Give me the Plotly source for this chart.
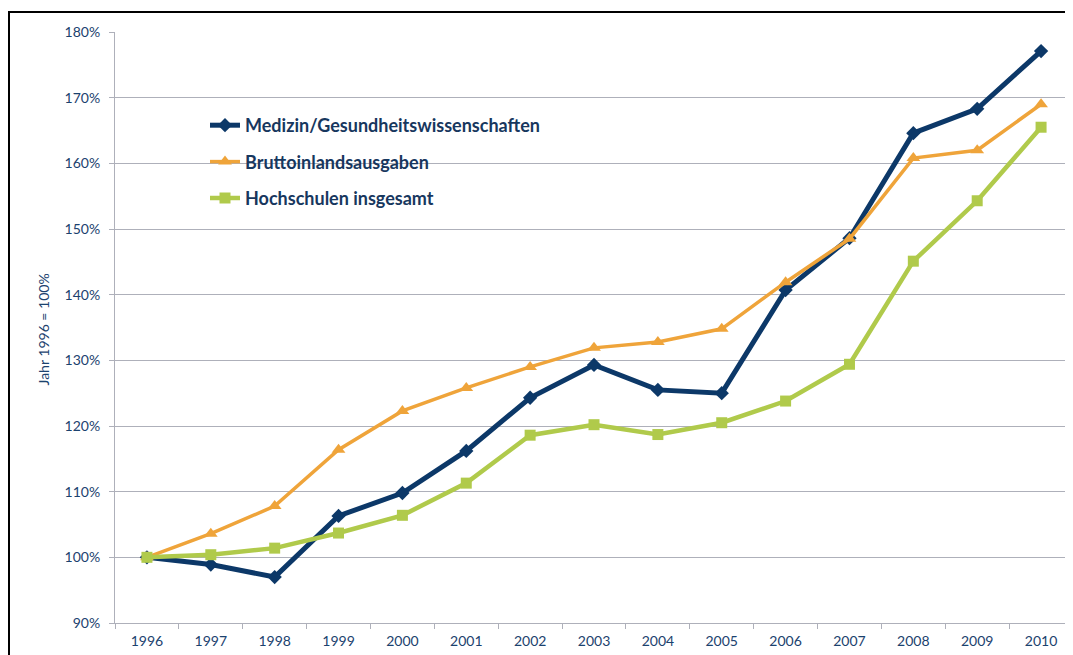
import plotly.graph_objects as go

NAVY = "#0C3868"
ORANGE = "#EFA43A"
GREEN = "#B0CA4B"
TEXT = "#1B426E"
GRID = "#AEB0BA"
FONT = "Lato, 'Open Sans', sans-serif"

years = [str(y) for y in range(1996, 2011)]
medizin = [100, 98.9, 97.0, 106.3, 109.8, 116.2, 124.3, 129.3, 125.5, 125.0, 140.7, 148.6, 164.6, 168.3, 177.1]
brutto = [100, 103.6, 107.8, 116.4, 122.3, 125.8, 129.0, 131.9, 132.8, 134.8, 141.9, 148.5, 160.8, 162.0, 169.0]
hochschulen = [100, 100.4, 101.4, 103.7, 106.4, 111.3, 118.6, 120.2, 118.7, 120.5, 123.8, 129.4, 145.1, 154.3, 165.5]

series = [
    ("Medizin/Gesundheitswissenschaften", medizin, NAVY, "diamond", 11, 5),
    ("Bruttoinlandsausgaben", brutto, ORANGE, "triangle-up", 12, 3.5),
    ("Hochschulen insgesamt", hochschulen, GREEN, "square", 11, 4.5),
]

fig = go.Figure()
for i, (name, vals, color, sym, msize, lw) in enumerate(series):
    fig.add_trace(go.Scatter(
        x=years, y=vals, name=name, mode="lines+markers",
        line=dict(color=color, width=lw),
        marker=dict(symbol=sym, size=msize, color=color),
        legendgroup=f"g{i}",
    ))

# page body has an 8px margin, so work in screen pixels and subtract it
OFF = 8
W, H = 1073 - OFF, 655 - OFF
# plot area on screen: x 115..1073, y 32..623
L, R, T, B = 115 - OFF, 0, 32 - OFF, 655 - 623
pw, ph = W - L - R, H - T - B


def px_x(x):
    return (x - OFF - L) / pw


def px_y(y):
    return (H - B - (y - OFF)) / ph


fig.update_layout(
    width=W, height=H,
    margin=dict(l=L, r=R, t=T, b=B),
    plot_bgcolor="white", paper_bgcolor="white",
    font=dict(family=FONT, color=TEXT, size=14),
    showlegend=True,
    legend=dict(
        x=px_x(205), y=px_y(107), xanchor="left", yanchor="top",
        bgcolor="rgba(0,0,0,0)",
        font=dict(size=18, color="#17375E", family=FONT, weight="bold"),
        tracegroupgap=10,
    ),
    shapes=[
        # white box behind legend (hides gridline)
        dict(type="rect", xref="paper", yref="paper",
             x0=px_x(172), x1=px_x(590), y0=px_y(215), y1=px_y(105),
             fillcolor="white", line=dict(width=0), layer="between"),
        # outer black frame
        dict(type="rect", xref="paper", yref="paper",
             x0=px_x(9), x1=1.05, y0=-0.2, y1=px_y(12),
             line=dict(color="black", width=2), fillcolor="rgba(0,0,0,0)"),
    ],
    annotations=[
        dict(text="Jahr 1996 = 100%", xref="paper", yref="paper",
             x=px_x(32), y=px_y(330), textangle=-90, showarrow=False,
             font=dict(size=14, color=TEXT, family=FONT)),
    ],
)

fig.update_xaxes(
    type="category", range=[-0.5, 14.5], tickson="boundaries",
    ticks="outside", ticklen=5,
    tickcolor=GRID, showline=True, linecolor=GRID, linewidth=1,
    showgrid=False, tickfont=dict(size=14, color=TEXT), ticklabelstandoff=5,
)
fig.update_yaxes(
    range=[90, 180], dtick=10, ticksuffix="%",
    ticks="outside", ticklen=5, tickcolor=GRID,
    showline=True, linecolor=GRID, linewidth=1,
    gridcolor=GRID, gridwidth=1, zeroline=False,
    tickfont=dict(size=14, color=TEXT), ticklabelstandoff=6,
)

fig.write_html("out.html")
